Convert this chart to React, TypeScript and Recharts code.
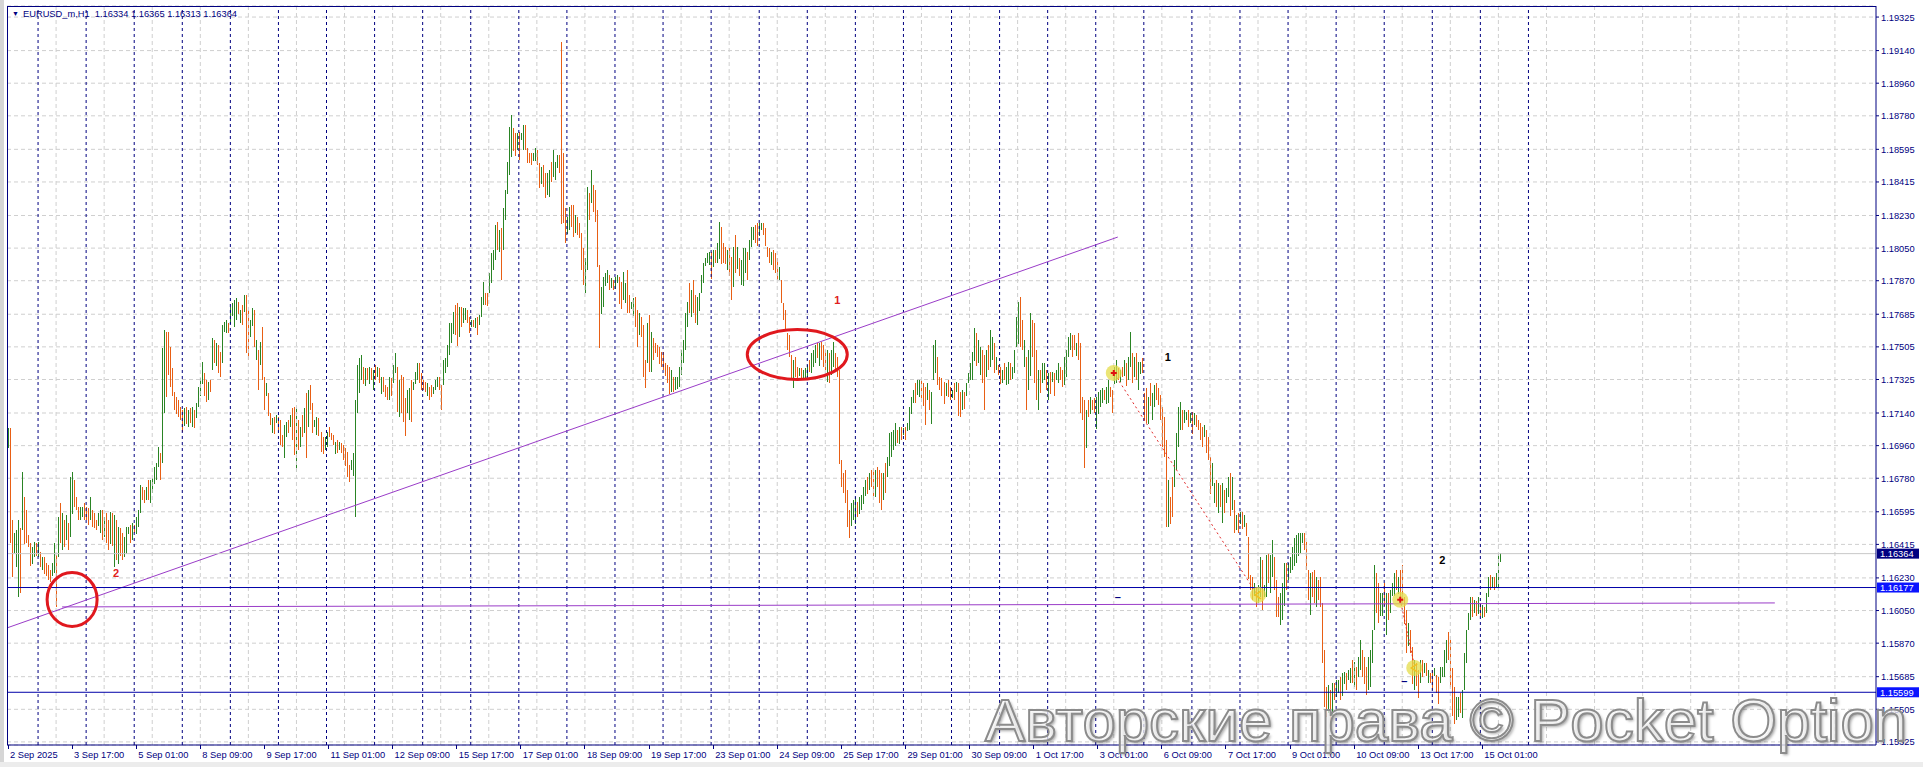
import React from 'react';
import { ComposedChart, Bar, XAxis, YAxis, CartesianGrid, ReferenceLine, ReferenceDot } from 'recharts';

// ---------- data (prices in points above BASE; 1 point = 0.00001) ----------
const SYMBOL = 'EURUSD_m,H1';
const BASE = 1.15;
const PT = 0.00001;
const FIRST_OPEN = 1990;

const HIGHS = [
  2056,2056,1550,1476,1495,1550,1504,1817,1679,1605, 1467,1421,1403,1430,1421,1430,1375,1348,1348,1311,
  1302,1274,1311,1421,1357,1568,1642,1587,1550,1577, 1532,1789,1817,1771,1679,1623,1623,1623,1642,1623,
  1614,1679,1605,1587,1550,1587,1605,1605,1568,1587, 1550,1596,1587,1577,1550,1513,1504,1476,1458,1513,
  1513,1522,1532,1522,1568,1605,1743,1734,1715,1734, 1771,1771,1780,1844,1863,1955,1918,2497,2598,2589,
  2589,2506,2387,2258,2230,2212,2175,2157,2166,2175, 2157,2166,2175,2157,2194,2286,2332,2423,2359,2322,
  2313,2322,2552,2543,2525,2515,2479,2626,2644,2653, 2635,2727,2745,2764,2773,2754,2708,2736,2791,2791,
  2708,2653,2718,2708,2543,2488,2534,2617,2341,2304, 2249,2138,2111,2120,2129,2120,2102,2019,2074,2092,
  2102,2129,2166,2175,2175,2102,2065,2129,2166,2249, 2267,2295,2194,2102,2120,2111,2037,2010,2010,2037,
  2065,2028,2019,1982,1991,1982,1973,1964,1945,1927, 1853,1881,1918,2212,2405,2442,2460,2396,2387,2387,
  2396,2387,2377,2405,2396,2386,2340,2340,2295,2285, 2340,2331,2405,2469,2396,2322,2350,2340,2221,2267,
  2276,2322,2313,2368,2414,2414,2359,2322,2313,2304, 2285,2295,2285,2322,2340,2340,2295,2432,2442,2515,
  2635,2635,2699,2736,2745,2727,2727,2717,2717,2708, 2671,2653,2653,2662,2671,2681,2782,2865,2800,2800,
  2911,3021,3039,3177,3196,3150,3159,3269,3370,3527, 3720,3784,3711,3683,3683,3692,3683,3729,3729,3600,
  3573,3573,3573,3600,3591,3517,3499,3508,3462,3462, 3481,3527,3591,3527,3563,3563,4189,3573,3269,3223,
  3278,3288,3288,3232,3223,3186,3131,3048,2993,3389, 3352,3481,3398,3370,3260,2957,2837,2892,2911,2929,
  2901,2883,2874,2892,2901,2892,2865,2920,2855,2929, 2791,2754,2773,2782,2708,2690,2671,2625,2432,2635,
  2681,2589,2552,2524,2515,2506,2478,2478,2414,2405, 2396,2377,2340,2340,2340,2396,2488,2543,2690,2754,
  2855,2819,2874,2791,2782,2800,2901,2966,2993,3021, 3030,3030,3039,3039,3076,3196,3168,3076,3058,3039,
  3048,3002,3058,3122,3058,2993,2984,3048,3048,3030, 3095,3168,3168,3177,3186,3186,3186,3186,3159,3058,
  3049,3030,3040,3021,2993,2947,2874,2745,2708,2580, 2570,2460,2432,2451,2396,2387,2387,2377,2387,2405,
  2432,2469,2488,2515,2524,2524,2534,2515,2488,2488, 2469,2488,2534,2469,2451,2380,1881,1807,1826,1715,
  1605,1642,1660,1679,1651,1679,1688,1734,1770,1789, 1807,1826,1835,1826,1844,1826,1807,1807,1862,1899,
  2028,2037,2046,2083,2046,2065,2065,2055,2065,2083, 2175,2230,2267,2304,2322,2322,2322,2304,2285,2304,
  2267,2258,2515,2543,2451,2340,2331,2313,2304,2322, 2285,2267,2304,2313,2304,2258,2267,2258,2304,2359,
  2414,2478,2607,2580,2543,2506,2488,2460,2488,2515, 2598,2561,2524,2451,2405,2396,2377,2414,2396,2423,
  2414,2396,2488,2672,2754,2782,2653,2543,2451,2488, 2690,2653,2635,2488,2377,2377,2414,2414,2377,2359,
  2368,2368,2359,2377,2414,2396,2377,2451,2488,2561, 2580,2570,2570,2524,2580,2524,2230,2212,2157,2212,
  2230,2212,2221,2230,2258,2267,2276,2267,2285,2322, 2285,2267,2396,2432,2387,2377,2396,2432,2414,2451,
  2589,2469,2451,2469,2423,2423,2442,2249,2276,2230, 2304,2249,2295,2304,2276,2239,2175,2120,1991,1770,
  1679,1789,1881,2028,2175,2203,2157,2157,2147,2157, 2138,2147,2138,2129,2101,2083,2065,2074,2046,2010,
  1899,1862,1752,1770,1752,1743,1752,1715,1724,1789, 1807,1789,1660,1577,1587,1596,1596,1577,1531,1458,
  1246,1237,1200,1182,1191,1347,1329,1191,1357,1366, 1357,1439,1347,1219,1127,1145,1200,1311,1311,1311,
  1347,1403,1449,1467,1476,1476,1476,1476,1430,1274, 1256,1265,1274,1237,1219,1237,1090,833,630,640,
  612,649,649,667,667,685,704,713,704,722, 731,777,768,740,796,888,833,796,740,796,
  833,943,1302,1256,1200,1145,1145,1200,1145,1145, 1164,1200,1256,1274,1237,1274,1302,1127,1053,980,
  943,851,777,759,722,777,777,759,759,722, 704,722,731,694,685,740,740,833,888,934,
  888,731,630,575,575,593,612,814,943,1035, 1127,1127,1108,1100,1127,1090,1080,1072,1145,1237,
  1246,1237,1237,1256,1366,1365,
];

const LOWS = [
  1945,1421,1237,1366,1292,1127,1145,1495,1421,1421, 1403,1292,1311,1348,1348,1348,1292,1274,1256,1237,
  1219,1210,1237,1256,1072,1348,1421,1384,1403,1440, 1384,1458,1587,1623,1605,1550,1550,1568,1550,1550,
  1522,1550,1513,1504,1495,1513,1476,1440,1458,1421, 1384,1421,1403,1292,1329,1311,1348,1329,1348,1366,
  1476,1421,1440,1476,1476,1513,1587,1660,1642,1660, 1660,1642,1697,1752,1771,1844,1771,1863,2138,2230,
  2350,2286,2230,2157,2138,2120,2102,2037,2065,2083, 2065,2083,2065,2056,2111,2175,2230,2304,2230,2203,
  2212,2258,2377,2414,2396,2359,2341,2414,2589,2580, 2580,2635,2672,2617,2653,2690,2635,2626,2699,2469,
  2433,2561,2617,2506,2433,2267,2405,2322,2157,2230, 2120,2074,2028,2028,2083,2046,1964,1955,1890,2010,
  2028,2065,1991,1909,1817,1936,1955,2010,2028,1890, 2065,2157,2028,2065,2019,2010,1927,1918,1936,1955,
  2010,1991,1964,1918,1918,1936,1918,1881,1844,1789, 1761,1826,1789,1568,2138,2249,2322,2304,2286,2322,
  2304,2322,2267,2322,2341,2304,2248,2258,2230,2212, 2212,2230,2304,2359,2147,2120,2138,2092,2009,2138,
  2101,2092,2267,2304,2322,2304,2267,2267,2258,2230, 2212,2230,2248,2267,2285,2267,2157,2295,2359,2396,
  2460,2524,2580,2570,2506,2561,2616,2635,2653,2635, 2580,2616,2616,2607,2570,2625,2671,2736,2736,2727,
  2800,2855,2929,2984,3039,3030,2874,3039,3205,3352, 3453,3554,3582,3554,3591,3536,3646,3591,3591,3517,
  3517,3508,3527,3527,3508,3380,3407,3389,3324,3343, 3334,3416,3444,3425,3490,3462,3186,3186,3076,3131,
  3150,3168,3113,3131,3122,3104,2929,2846,2800,2929, 3205,3297,3251,3196,2947,2497,2690,2727,2837,2855,
  2819,2828,2819,2828,2855,2745,2717,2763,2745,2690, 2690,2717,2671,2616,2506,2570,2561,2340,2276,2414,
  2368,2368,2432,2469,2451,2414,2396,2377,2340,2304, 2248,2258,2258,2267,2276,2285,2350,2414,2488,2616,
  2690,2671,2690,2635,2625,2699,2800,2855,2947,2966, 2957,2883,2947,2966,2966,2993,2966,2966,2966,2929,
  2892,2763,2837,2911,2938,2892,2846,2837,2911,2874, 2984,3058,3095,3076,3058,3113,3150,3122,3058,3003,
  2966,2957,2929,2911,2874,2874,2745,2653,2598,2488, 2451,2331,2276,2341,2322,2341,2322,2331,2331,2341,
  2368,2359,2396,2414,2442,2396,2432,2396,2377,2313, 2304,2350,2396,2377,2341,1860,1734,1697,1642,1513,
  1449,1513,1550,1531,1568,1587,1605,1642,1679,1697, 1715,1734,1679,1679,1734,1642,1605,1660,1697,1789,
  1844,1899,1936,1955,1973,1973,1991,2019,1991,2037, 2046,2138,2193,2193,2239,2230,2212,2175,2074,2212,
  2157,2083,2322,2359,2295,2267,2230,2193,2230,2230, 2212,2221,2212,2258,2120,2120,2157,2166,2230,2304,
  2322,2322,2423,2396,2414,2350,2304,2157,2341,2377, 2396,2432,2359,2377,2350,2304,2304,2322,2295,2304,
  2322,2331,2359,2506,2524,2506,2488,2396,2157,2267, 2341,2451,2304,2212,2157,2249,2304,2322,2267,2212,
  2249,2313,2230,2322,2304,2322,2285,2295,2341,2451, 2488,2451,2488,2451,2432,2138,2101,1835,1945,2120,
  2138,2157,2138,2055,2138,2175,2193,2212,2193,2193, 2230,2138,2304,2304,2322,2313,2341,2341,2285,2322,
  2396,2304,2341,2322,2267,2359,2359,2101,2083,2083, 2175,2101,2175,2212,2184,2101,1954,1899,1513,1513,
  1531,1568,1734,1826,1954,2046,2046,2083,2101,2065, 2083,2028,2074,2065,2046,1991,1954,2010,1918,1881,
  1697,1734,1642,1623,1587,1623,1531,1587,1642,1679, 1568,1605,1476,1495,1476,1531,1504,1513,1458,1228,
  1164,1108,1127,1072,1090,1127,1053,1127,1127,1200, 1145,1237,1164,1017,1017,970,998,1072,1164,1219,
  1256,1274,1292,1311,1347,1366,1421,1384,1274,1108, 1026,1127,1090,1072,1108,1072,759,520,465,483,
  419,465,557,575,593,557,575,649,612,667, 649,649,630,612,685,722,685,649,584,612,
  630,759,943,1035,980,1017,1017,1072,915,998, 1035,1127,1127,1164,1145,1108,1090,980,814,851,
  814,649,612,630,566,649,685,704,685,649, 649,612,685,593,538,649,685,685,759,777,
  630,465,428,446,465,483,456,612,759,943, 998,1017,1035,1017,1035,1017,1007,1017,1035,1127,
  1164,1182,1164,1173,1173,1313,
];

const CLOSES = [
  2040,1480,1290,1400,1460,1500,1300,1760,1480,1440, 1410,1320,1390,1420,1360,1415,1300,1335,1270,1245,
  1225,1215,1300,1400,1340,1540,1440,1570,1420,1560, 1400,1760,1790,1640,1615,1560,1610,1615,1560,1555,
  1530,1560,1520,1510,1500,1520,1590,1460,1465,1430, 1395,1580,1420,1550,1340,1490,1360,1340,1355,1500,
  1510,1430,1520,1480,1560,1595,1720,1665,1650,1725, 1670,1760,1770,1835,1850,1945,1790,2470,2580,2560,
  2360,2300,2240,2165,2145,2130,2110,2050,2150,2090, 2145,2095,2160,2150,2185,2275,2320,2410,2240,2215,
  2300,2265,2540,2425,2515,2370,2350,2615,2635,2645, 2590,2715,2735,2750,2765,2695,2700,2635,2780,2480,
  2445,2570,2625,2515,2530,2280,2415,2335,2165,2235, 2130,2080,2100,2035,2120,2110,1975,1960,2060,2085,
  2035,2120,2000,1920,2160,1945,2055,2020,2155,1900, 2255,2165,2040,2070,2110,2020,1935,1925,2000,2030,
  2015,1995,1970,1975,1925,1940,1920,1885,1850,1795, 1765,1830,1905,2190,2390,2430,2450,2310,2380,2330,
  2385,2330,2370,2330,2345,2315,2330,2265,2235,2220, 2330,2320,2395,2455,2160,2310,2150,2100,2020,2255,
  2265,2110,2305,2360,2405,2315,2275,2270,2262,2295, 2280,2235,2280,2315,2335,2275,2170,2420,2435,2505,
  2620,2625,2690,2580,2520,2715,2625,2640,2660,2640, 2590,2650,2648,2655,2580,2675,2770,2850,2745,2735,
  2900,3005,3030,3160,3050,3140,2890,3255,3355,3365, 3700,3770,3595,3565,3600,3550,3678,3720,3600,3525,
  3522,3515,3530,3595,3515,3390,3490,3400,3335,3455, 3470,3425,3455,3515,3555,3470,3300,3200,3090,3215,
  3270,3175,3120,3135,3128,3110,2940,2855,2985,3370, 3340,3470,3260,3205,2960,2700,2825,2880,2905,2920,
  2825,2878,2870,2885,2898,2755,2725,2775,2848,2700, 2695,2750,2765,2625,2515,2680,2570,2350,2285,2620,
  2380,2575,2545,2472,2455,2420,2400,2385,2345,2310, 2255,2370,2262,2335,2338,2390,2480,2535,2680,2745,
  2700,2810,2700,2645,2775,2795,2895,2960,2988,3015, 3025,2895,3035,3034,3070,3185,2975,2972,2970,3030,
  2900,2775,3050,2920,2945,2898,2975,3040,3042,3022, 3088,3160,3162,3085,3065,3120,3180,3128,3065,3008,
  2972,3025,2935,2915,2880,2940,2750,2660,2605,2495, 2458,2340,2425,2350,2328,2382,2327,2335,2382,2400,
  2372,2462,2480,2508,2448,2515,2440,2405,2385,2480, 2315,2360,2525,2385,2350,1895,1745,1705,1650,1525,
  1460,1520,1650,1670,1575,1672,1682,1728,1762,1705, 1800,1740,1690,1818,1740,1650,1615,1800,1705,1890,
  2020,2030,2040,2075,2040,2060,1995,2050,1998,2080, 2168,2222,2260,2200,2315,2318,2220,2182,2085,2298,
  2165,2250,2505,2535,2305,2272,2238,2200,2298,2236, 2218,2225,2218,2308,2130,2128,2260,2172,2298,2352,
  2408,2470,2598,2405,2420,2498,2312,2168,2480,2385, 2405,2553,2368,2382,2355,2310,2372,2330,2390,2415,
  2330,2336,2480,2515,2740,2520,2495,2535,2170,2278, 2680,2460,2315,2222,2370,2258,2312,2408,2275,2352,
  2256,2362,2238,2328,2408,2330,2292,2445,2480,2555, 2575,2562,2495,2518,2440,2150,2108,1980,2150,2128,
  2225,2162,2145,2222,2250,2260,2270,2218,2278,2315, 2236,2145,2390,2425,2330,2372,2348,2425,2292,2445,
  2580,2312,2445,2330,2415,2418,2365,2240,2090,2222, 2182,2242,2288,2218,2190,2108,1965,1910,1530,1760,
  1670,1580,1872,2018,2165,2195,2052,2090,2142,2070, 2088,2035,2132,2070,2050,1998,1962,2015,1925,1888,
  1705,1742,1745,1630,1745,1630,1745,1595,1718,1780, 1578,1615,1485,1570,1485,1590,1510,1572,1465,1240,
  1170,1115,1132,1080,1095,1340,1065,1132,1350,1210, 1350,1432,1172,1025,1022,1138,1192,1302,1172,1305,
  1340,1395,1440,1460,1470,1470,1472,1390,1282,1118, 1248,1135,1098,1230,1115,1080,770,540,475,495,
  430,640,565,660,662,565,698,708,620,718, 726,656,762,620,790,880,692,656,592,620,
  826,935,1290,1045,990,1025,1138,1080,1138,1005, 1158,1195,1250,1170,1230,1118,1100,990,825,860,
  822,660,770,638,575,770,692,754,692,717, 655,620,726,600,548,735,735,826,880,785,
  640,475,438,455,570,490,605,806,935,1028, 1120,1025,1042,1025,1120,1025,1075,1022,1140,1230,
  1170,1232,1170,1250,1334,1364,
];

const TOTAL_SLOTS = 933;
const LABEL_EVERY = 32;
const X_LABELS = [
  '2 Sep 2025', '3 Sep 17:00', '5 Sep 01:00', '8 Sep 09:00', '9 Sep 17:00', '11 Sep 01:00',
  '12 Sep 09:00', '15 Sep 17:00', '17 Sep 01:00', '18 Sep 09:00', '19 Sep 17:00', '23 Sep 01:00',
  '24 Sep 09:00', '25 Sep 17:00', '29 Sep 01:00', '30 Sep 09:00', '1 Oct 17:00', '3 Oct 01:00',
  '6 Oct 09:00', '7 Oct 17:00', '9 Oct 01:00', '10 Oct 09:00', '13 Oct 17:00', '15 Oct 01:00',
];
const DAY_STARTS = [15,39,63,87,111,135,159,183,207,231,255,279,303,327,351,375,399,423,447,471,495,519,543,567,591,615,639,663,687,711,735,759];
const GRID_X = [24,48,72,96,120,144,168,192,216,240,264,288,312,336,360,384,408,432,456,480,504,528,552,576,600,624,648,672,696,720,744,768,792,816,840,864,888,912];
const Y_TICKS = [1.19325,1.1914,1.1896,1.1878,1.18595,1.18415,1.1823,1.1805,1.1787,1.17685,1.17505,1.17325,1.1714,1.1696,1.1678,1.16595,1.16415,1.1623,1.1605,1.1587,1.15685,1.15505,1.15325];
const Y_MIN = 1.15308;
const Y_MAX = 1.19386;

const LEVELS = [
  { price: 1.16364, line: '#c8c8c8', tag: '#000080' },
  { price: 1.16177, line: '#0000a8', tag: '#0a14ff' },
  { price: 1.15599, line: '#0000a8', tag: '#0a14ff' },
];
const TREND = [{ x: 0, y: 1.15956 }, { x: 554, y: 1.18111 }];
const SUPPORT = [{ x: 27, y: 1.16070 }, { x: 882, y: 1.16092 }];
const DASH_1 = [{ x: 552, y: 1.17361 }, { x: 624, y: 1.16131 }];
const DASH_2 = [{ x: 695, y: 1.16109 }, { x: 702, y: 1.1575 }];
const ELLIPSES = [
  { x: 32, y: 1.16111, rx: 25, ry: 27 },
  { x: 394, y: 1.17463, rx: 50, ry: 25 },
];
const MARKERS = [
  { x: 552, y: 1.17361, kind: 'cross' },
  { x: 624, y: 1.16136, kind: 'tri' },
  { x: 695, y: 1.16109, kind: 'cross' },
  { x: 702, y: 1.15733, kind: 'tri' },
];
const NOTES = [
  { x: 54, y: 1.16258, text: '2', color: '#e02020' },
  { x: 414, y: 1.17764, text: '1', color: '#e02020' },
  { x: 579, y: 1.17449, text: '1', color: '#000000' },
  { x: 716, y: 1.16329, text: '2', color: '#000000' },
  { x: 554, y: 1.16125, text: '–', color: '#000080' },
  { x: 697, y: 1.15662, text: '–', color: '#000080' },
];
const WATERMARK = 'Авторские права © Pocket Option';

// ---------- styles ----------
const NAVY = '#000080';
const GREEN = '#2a8424';
const ORANGE = '#e85f14';
const PURPLE = '#9a3cc8';
const FONT = '"Liberation Sans", Arial, sans-serif';

const rows = Array.from({ length: TOTAL_SLOTS }, (_, i) => {
  if (i < HIGHS.length) {
    const open = i === 0 ? FIRST_OPEN : CLOSES[i - 1];
    return { i, range: [BASE + LOWS[i] * PT, BASE + HIGHS[i] * PT], up: CLOSES[i] >= open };
  }
  return { i };
});

const last = HIGHS.length - 1;
const fmt = (v: number) => (BASE + v * PT).toFixed(5);
const headerText = `${SYMBOL}  ${fmt(CLOSES[last - 1])} ${fmt(HIGHS[last])} ${fmt(LOWS[last])} ${fmt(CLOSES[last])}`;

const BarLine = (props: any) => {
  const { x, y, width, height, payload } = props;
  if (!payload || !payload.range || !isFinite(y)) return <g />;
  const top = height < 0 ? y + height : y;
  const h = Math.max(1, Math.abs(height));
  const cx = Math.round(x + width / 2 - 0.5);
  return <rect x={cx} y={Math.round(top)} width={1} height={Math.round(h)} fill={payload.up ? GREEN : ORANGE} shapeRendering="crispEdges" />;
};

const XTick = (props: any) => {
  const { x, y, payload } = props;
  const k = payload.value / LABEL_EVERY;
  if (!Number.isInteger(k) || k >= X_LABELS.length) return <g />;
  return (
    <g>
      <line x1={x} x2={x} y1={y} y2={y + 4} stroke={NAVY} shapeRendering="crispEdges" />
      <text x={x + 2} y={y + 13} fill={NAVY} fontSize={9.3} fontFamily={FONT}>{X_LABELS[k]}</text>
    </g>
  );
};

const YTick = (props: any) => {
  const { x, y, payload } = props;
  return <text x={x} y={y + 3.5} fill={NAVY} fontSize={9.3} fontFamily={FONT}>{payload.value.toFixed(5)}</text>;
};

const PriceTag = (props: any) => {
  const { viewBox, value, bg } = props;
  if (!viewBox) return null;
  const x = viewBox.x + viewBox.width + 1;
  const y = viewBox.y;
  return (
    <g>
      <rect x={x} y={y - 5} width={42} height={10} fill={bg} />
      <text x={x + 3} y={y + 3.5} fill="#ffffff" fontSize={9.3} fontFamily={FONT}>{value}</text>
    </g>
  );
};

const EllipseShape = (rx: number, ry: number) => (props: any) => (
  <ellipse cx={props.cx} cy={props.cy} rx={rx} ry={ry} fill="none" stroke="#e0181e" strokeWidth={3} />
);

const MarkerShape = (kind: string) => (props: any) => (
  <g>
    <circle cx={props.cx} cy={props.cy} r={8} fill="#e4dc48" opacity={0.75} />
    {kind === 'cross' ? (
      <path d={`M${props.cx - 3},${props.cy} h6 M${props.cx},${props.cy - 3} v6`} stroke="#e01010" strokeWidth={2} />
    ) : (
      <path d={`M${props.cx + 3},${props.cy - 4} L${props.cx - 3},${props.cy} L${props.cx + 3},${props.cy + 4}`} fill="none" stroke="#f0c020" strokeWidth={1.5} />
    )}
  </g>
);

const NoteShape = (text: string, color: string) => (props: any) => (
  <text x={props.cx} y={props.cy + 4} textAnchor="middle" fill={color} fontSize={11} fontWeight="bold" fontFamily={FONT}>{text}</text>
);

export default function App() {
  const ok = HIGHS.length === LOWS.length && LOWS.length === CLOSES.length;
  return (
    <div style={{ position: 'absolute', left: 0, top: 0, width: 1923, height: 767, background: '#ffffff', overflow: 'hidden' }}>
      <ComposedChart width={1923} height={767} data={rows} margin={{ top: 6, right: 0, bottom: 0, left: 7 }} barCategoryGap={0}>
        <CartesianGrid vertical={false} stroke="#cfcfcf" strokeDasharray="4 3" />
        {GRID_X.map((g) => (
          <ReferenceLine key={'g' + g} x={g} stroke="#cfcfcf" strokeDasharray="4 3" />
        ))}
        {DAY_STARTS.map((d) => (
          <ReferenceLine key={'d' + d} x={d} stroke={NAVY} strokeDasharray="3 3" />
        ))}
        <XAxis dataKey="i" type="category" interval={LABEL_EVERY - 1} height={22} tickSize={0} tickMargin={0} tickLine={false}
          axisLine={{ stroke: NAVY }} tick={<XTick />} />
        <YAxis orientation="right" type="number" domain={[Y_MIN, Y_MAX]} ticks={Y_TICKS} allowDataOverflow width={47}
          interval={0} tickSize={3} tickMargin={2} tickLine={{ stroke: NAVY }} axisLine={{ stroke: NAVY }} tick={<YTick />} />
        <Bar dataKey="range" barSize={1} isAnimationActive={false} shape={<BarLine />} />
        <ReferenceLine segment={TREND} stroke={PURPLE} strokeWidth={1} />
        <ReferenceLine segment={SUPPORT} stroke={PURPLE} strokeWidth={1} />
        <ReferenceLine segment={DASH_1} stroke="#e02828" strokeDasharray="2 3" />
        <ReferenceLine segment={DASH_2} stroke="#e02828" strokeDasharray="2 2" />
        {LEVELS.map((l) => (
          <ReferenceLine key={'l' + l.price} y={l.price} stroke={l.line}
            label={<PriceTag value={l.price.toFixed(5)} bg={l.tag} />} />
        ))}
        {ELLIPSES.map((e) => (
          <ReferenceDot key={'e' + e.x} x={e.x} y={e.y} r={1} shape={EllipseShape(e.rx, e.ry)} />
        ))}
        {MARKERS.map((m) => (
          <ReferenceDot key={'m' + m.x} x={m.x} y={m.y} r={1} shape={MarkerShape(m.kind)} />
        ))}
        {NOTES.map((n) => (
          <ReferenceDot key={'n' + n.x + n.text} x={n.x} y={n.y} r={1} shape={NoteShape(n.text, n.color)} />
        ))}
      </ComposedChart>
      {/* frame */}
      <div style={{ position: 'absolute', left: 7, top: 6, width: 1869, height: 739, borderTop: `1px solid ${NAVY}`, borderLeft: `1px solid ${NAVY}`, boxSizing: 'border-box', pointerEvents: 'none' }} />
      <div style={{ position: 'absolute', left: 0, top: 0, width: 4, height: 767, background: '#d6d6d6' }} />
      <div style={{ position: 'absolute', left: 0, top: 762, width: 1923, height: 5, background: '#ececec' }} />
      {/* header */}
      <div style={{ position: 'absolute', left: 12, top: 10, fontSize: 7, color: NAVY, fontFamily: FONT }}>▼</div>
      <div style={{ position: 'absolute', left: 23, top: 9, fontSize: 9.3, color: NAVY, fontFamily: FONT, whiteSpace: 'pre' }}>{headerText}</div>
      {/* watermark */}
      <div style={{ position: 'absolute', left: 985, top: 686, fontSize: 60, lineHeight: '70px', fontFamily: FONT, whiteSpace: 'pre',
        color: 'rgba(255,255,255,0.72)', WebkitTextStroke: '2px #8c8c8c', textShadow: '2px 2px 3px rgba(0,0,0,0.35)', pointerEvents: 'none' }}>
        {WATERMARK}
      </div>
      {!ok && <div style={{ position: 'absolute', left: 300, top: 300, color: 'red', fontSize: 30 }}>LEN {HIGHS.length} {LOWS.length} {CLOSES.length}</div>}
    </div>
  );
}
